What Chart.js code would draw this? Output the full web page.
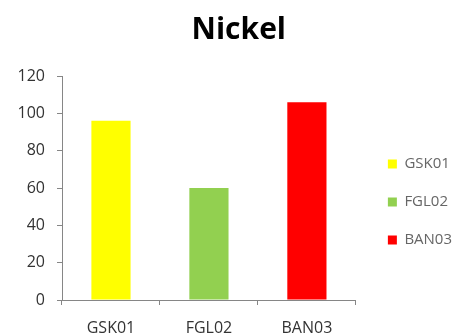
<!DOCTYPE html>
<html>
<head>
<meta charset="utf-8">
<script src="https://cdn.jsdelivr.net/npm/chart.js@4/dist/chart.umd.min.js"></script>
<style>
html,body{margin:0;padding:0;background:#fff;}
#wrap{width:460px;height:334px;position:relative;}
</style>
</head>
<body>
<div id="wrap"><canvas id="c" width="460" height="334"></canvas></div>
<script>
const categories = ['GSK01', 'FGL02', 'BAN03'];
const values = [96, 60, 106];
const barColors = ['#FFFF00', '#92D050', '#FF0000'];
const yTicks = [0, 20, 40, 60, 80, 100, 120];

const FONT = "'Open Sans', 'Liberation Sans', sans-serif";

new Chart(document.getElementById('c'), {
  type: 'bar',
  data: {
    labels: categories,
    datasets: [{
      label: 'Nickel',
      data: values,
      backgroundColor: barColors,
      borderWidth: 0,
      categoryPercentage: 0.4,
      barPercentage: 1.0,
      yAxisID: 'y'
    }]
  },
  options: {
    responsive: false,
    animation: false,
    devicePixelRatio: 1,
    layout: { padding: { left: 0, right: -2, top: 0, bottom: 0 } },
    plugins: {
      title: {
        display: true,
        text: '  Nickel',
        color: '#000',
        font: { family: FONT, size: 30, weight: 'bold' },
        padding: { top: 12, bottom: 28 }
      },
      legend: {
        display: true,
        position: 'right',
        maxWidth: 140,
        title: { display: true, text: ' ', padding: { top: 55.6, bottom: 0 } },
        labels: {
          color: '#333',
          font: { family: FONT, size: 15 },
          boxWidth: 9,
          boxHeight: 9,
          padding: 23,
          generateLabels: (chart) => categories.map((c, i) => ({
            text: c,
            fillStyle: barColors[i],
            strokeStyle: barColors[i],
            lineWidth: 0,
            hidden: false,
            index: i
          }))
        }
      },
      tooltip: { enabled: false }
    },
    scales: {
      x: {
        grid: { display: true, drawOnChartArea: false, drawTicks: true, tickLength: 5, color: '#868686', offset: true },
        border: { display: true, color: '#868686' },
        ticks: { color: '#333', font: { family: FONT, size: 16 }, padding: 14 },
        afterFit: (s) => { s.height = 34; }
      },
      y: {
        min: 0,
        max: 120,
        afterBuildTicks: (s) => { s.ticks = yTicks.map(v => ({ value: v })); },
        grid: { display: true, drawOnChartArea: false, drawTicks: true, tickLength: 5, color: '#868686' },
        border: { display: true, color: '#868686' },
        ticks: { color: '#333', font: { family: FONT, size: 16 }, padding: 12 },
        afterFit: (s) => { s.width = 62; }
      },
      gap: {
        type: 'linear',
        position: 'right',
        display: true,
        grid: { display: false },
        border: { display: false },
        ticks: { display: false },
        afterFit: (s) => { s.width = 9; }
      }
    }
  }
});
</script>
</body>
</html>
